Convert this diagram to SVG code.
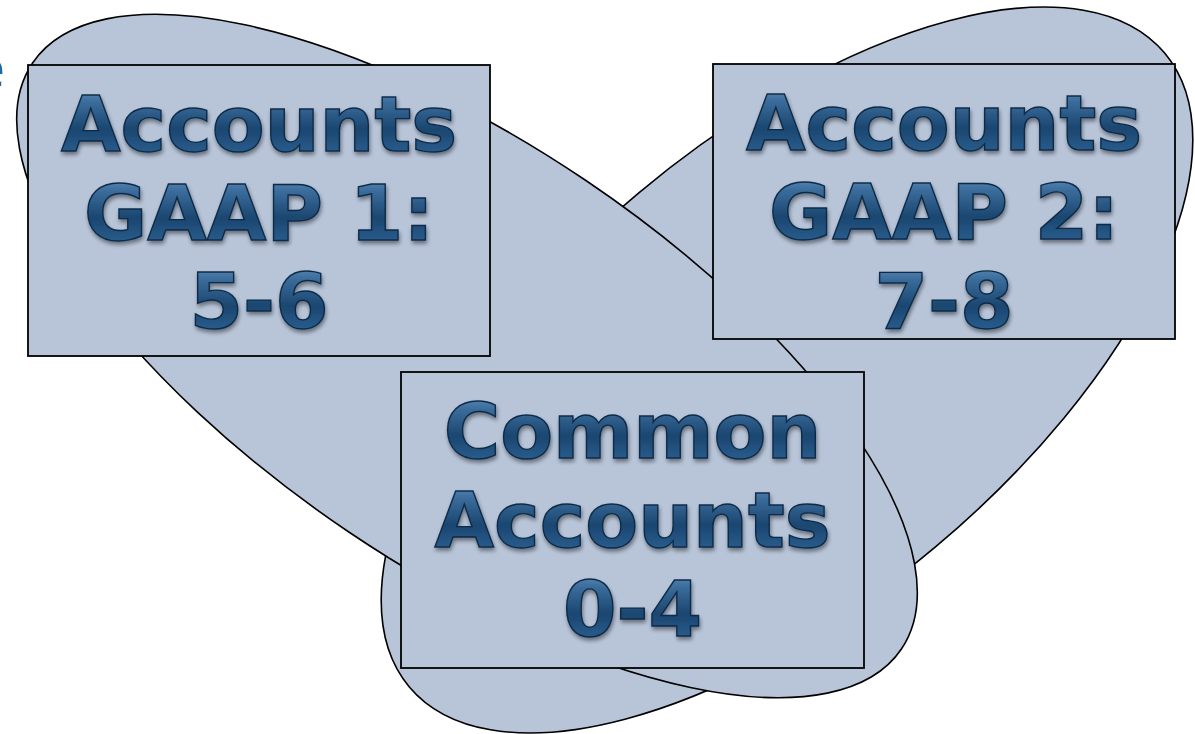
<svg xmlns="http://www.w3.org/2000/svg" width="1195" height="734" viewBox="0 0 1195 734">
  <defs>
    <style>
      .blob { fill: #b8c5d9; stroke: #000; stroke-width: 1.6; }
      .box { fill: #b8c5d9; stroke: #000; stroke-width: 1.8; }
      .lbl { font-family: "DejaVu Sans", Verdana, sans-serif; font-weight: bold; font-size: 77px;
             text-anchor: middle; fill: url(#glass); stroke: #0b2a47; stroke-width: 1.4;
             filter: url(#lift); }
      .ghost { font-family: "DejaVu Sans", Verdana, sans-serif; font-size: 54px; fill: #1f6aa5; }
    </style>
    <!-- glossy dark-blue lettering -->
    <linearGradient id="glass" x1="0" y1="0" x2="0" y2="1">
      <stop offset="0" stop-color="#6d9dca"/>
      <stop offset="0.25" stop-color="#3b6c9b"/>
      <stop offset="0.55" stop-color="#1b4670"/>
      <stop offset="0.8" stop-color="#285b8b"/>
      <stop offset="1" stop-color="#4c80b0"/>
    </linearGradient>
    <filter id="lift" x="-10%" y="-25%" width="125%" height="160%">
      <feGaussianBlur in="SourceAlpha" stdDeviation="2"/>
      <feOffset dx="1" dy="3"/>
      <feComponentTransfer><feFuncA type="linear" slope="0.45"/></feComponentTransfer>
      <feMerge><feMergeNode/><feMergeNode in="SourceGraphic"/></feMerge>
    </filter>
  </defs>

  <!-- heading letter running off the left margin -->
  <text class="ghost" x="-28" y="87">e</text>

  <!-- account-range regions: the right one sits underneath the left one -->
  <g id="region-gaap2">
    <ellipse class="blob" cx="787" cy="370" rx="493" ry="231" transform="rotate(-40 787 370)"/>
  </g>
  <g id="region-gaap1">
    <ellipse class="blob" cx="467" cy="356" rx="524" ry="212" transform="rotate(34 467 356)"/>
  </g>

  <g id="connectors"/>

  <g id="node-gaap1">
    <rect class="box" x="28" y="65" width="462" height="291"/>
    <text class="lbl" x="259" y="151">Accounts</text>
    <text class="lbl" x="259" y="240">GAAP 1:</text>
    <text class="lbl" x="259" y="328">5-6</text>
  </g>

  <g id="node-gaap2">
    <rect class="box" x="713" y="64" width="462" height="275"/>
    <text class="lbl" x="944" y="150">Accounts</text>
    <text class="lbl" x="944" y="239">GAAP 2:</text>
    <text class="lbl" x="944" y="328">7-8</text>
  </g>

  <g id="node-common">
    <rect class="box" x="401" y="372" width="463" height="296"/>
    <text class="lbl" x="632.5" y="458">Common</text>
    <text class="lbl" x="632.5" y="547">Accounts</text>
    <text class="lbl" x="632.5" y="636">0-4</text>
  </g>
</svg>
